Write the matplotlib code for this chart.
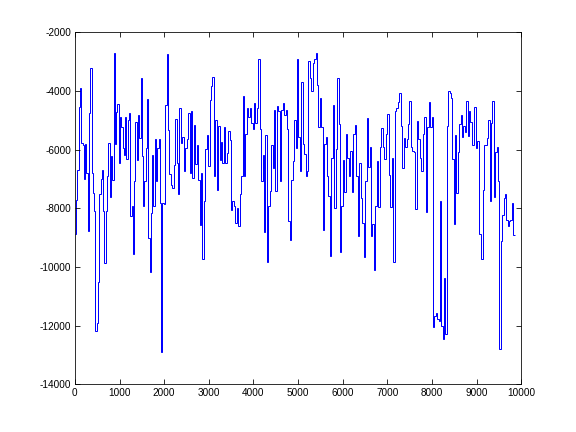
import numpy as np
import matplotlib
matplotlib.use("Agg")
import matplotlib.pyplot as plt

# Stepped signal, traced in five consecutive x-ranges
range_bounds = [0, 1990, 3980, 5970, 7960, 9850]

vals_1 = [-8860, -7700, -6700, -4550, -3900, -5780, -5850, -7000, -5800, -6800,
          -8760, -4760, -3230, -6800, -7480, -8100, -12180, -11900, -10500, -7500,
          -7000, -6700, -8100, -9860, -8100, -6900, -5780, -7600, -6200, -7030,
          -2690, -5800, -4700, -4440, -6440, -4900, -5240, -5950, -6170, -4870,
          -6300, -5000, -4750, -8270, -7900, -9540, -7050, -5040, -6340, -4800,
          -5610, -3540, -6210, -7900, -7080, -5950, -4280, -9000, -10170, -8160,
          -6170, -7900, -5640, -7050, -5950, -5640, -7820, -12900, -7820]

vals_2 = [-7840, -4480, -2740, -5330, -6820, -7200, -7300, -6520, -4960, -6460,
          -7510, -4590, -5760, -5570, -6740, -5950, -5640, -4760, -6780, -4680,
          -6950, -5140, -6490, -5850, -7030, -8580, -6800, -9720, -7760, -5980,
          -5500, -6550, -4310, -3830, -3510, -6880, -4990, -7360, -5180, -6350,
          -5730, -6440, -5240, -6460, -6120, -5360, -5670, -8040, -7730, -7900,
          -8480, -7990, -8610, -7510, -6890, -4170, -6910, -5470, -4590, -4900,
          -4590, -5100]

vals_3 = [-5300, -4420, -5100, -4560, -2920, -5300, -7050, -6180, -8820, -5510,
          -9840, -7900, -7420, -5850, -6630, -4640, -7420, -4510, -4690, -7080,
          -4640, -4420, -4810, -4660, -5280, -8440, -9060, -7030, -6400, -4990,
          -5950, -2920, -5570, -6740, -3690, -5810, -6140, -6890, -6740, -2970,
          -3550, -3990, -3030, -2900, -2700, -3800, -5210, -4250, -5210, -8720,
          -5790, -5570, -6910, -7590, -9610, -6290, -4490, -8000, -5990, -3540,
          -5120, -9480]

vals_4 = [-7930, -6350, -7450, -5460, -6290, -6890, -6030, -7450, -5460, -5160,
          -6890, -8950, -6460, -7650, -8500, -9660, -7080, -4920, -6600, -5910,
          -8930, -8530, -10110, -7910, -6400, -7950, -5910, -5270, -5890, -6320,
          -5460, -4780, -6860, -7950, -6290, -9840, -4670, -4590, -4370, -4060,
          -5180, -6630, -5610, -5900, -5640, -5120, -4340, -5900, -6030, -6060,
          -8020, -5030, -5620, -6290, -6710, -5460, -4900, -8110, -5210, -4360]

vals_5 = [-5240, -4900, -12030, -11670, -11560, -11760, -11840, -7730, -11990, -12460,
          -10370, -12290, -5190, -4010, -4060, -4220, -6320, -8520, -5510, -7480,
          -6060, -5120, -4800, -5570, -5180, -5380, -4330, -5520, -4670, -5040,
          -5840, -5850, -4530, -5950, -5700, -8870, -8870, -9720, -7360, -5840,
          -5840, -5610, -4990, -7730, -5100, -4330, -7620, -6060, -5890, -7080,
          -12800, -9100, -8210, -7650, -7510, -8380, -8590, -8440, -8380, -7800,
          -8900]

segments = [vals_1, vals_2, vals_3, vals_4, vals_5]

values = []
edges = [range_bounds[0]]
for i, seg in enumerate(segments):
    e = np.linspace(range_bounds[i], range_bounds[i + 1], len(seg) + 1)
    edges.extend(e[1:].tolist())
    values.extend(seg)

plt.rcParams['font.family'] = ['Liberation Sans', 'DejaVu Sans']
plt.rcParams['axes.unicode_minus'] = False

fig = plt.figure(figsize=(8, 6), dpi=72)
ax = fig.add_axes([0.13, 0.11, 0.775, 0.815])
ax.stairs(values, edges, baseline=None, color='#0000ff', linewidth=1.0)

ax.set_xlim(0, 10000)
ax.set_ylim(-14000, -2000)
ax.set_xticks(np.arange(0, 10001, 1000))
ax.set_yticks(np.arange(-14000, -1999, 2000))
ax.tick_params(direction='in', top=True, right=True, labelsize=10, length=5, width=0.8)
for s in ax.spines.values():
    s.set_linewidth(0.8)

fig.savefig('out.png', dpi=72)
